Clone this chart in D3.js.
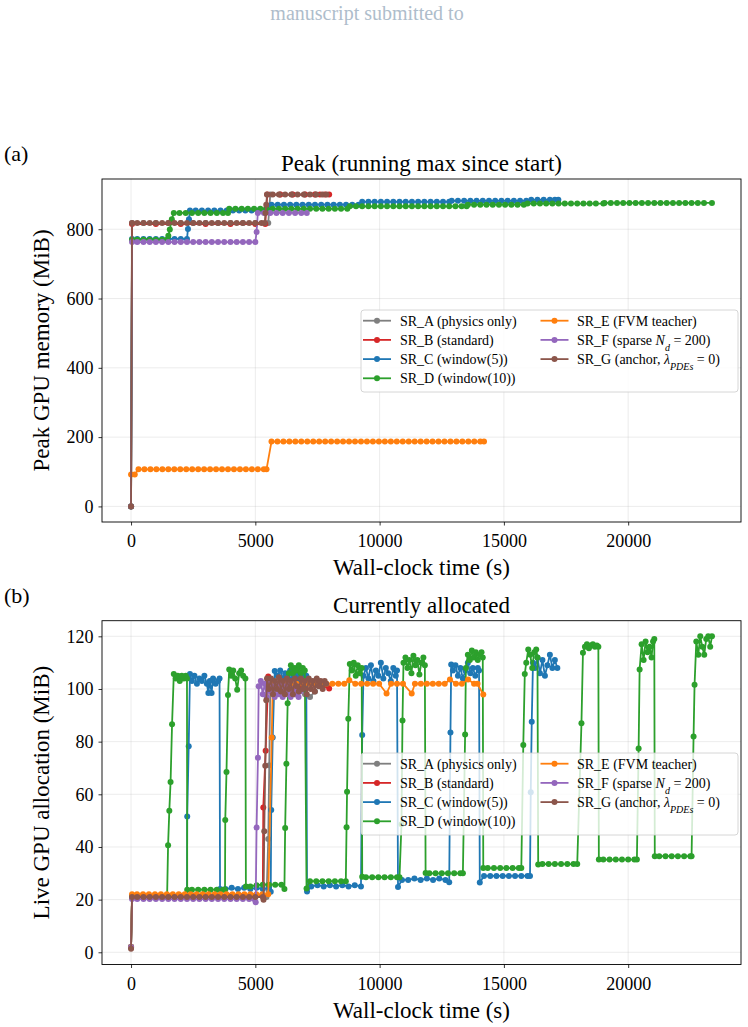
<!DOCTYPE html>
<html><head><meta charset="utf-8">
<script src="https://cdn.jsdelivr.net/npm/d3@7"></script>
<style>
body{margin:0;background:#fff}
svg{display:block}
text{font-family:"Liberation Serif","DejaVu Serif",serif;fill:#000}
</style>
</head><body>
<svg id="c" width="748" height="1027"></svg>
<script>
// ---------- series metadata ----------
const seriesNames = ["SR_A","SR_B","SR_C","SR_D","SR_E","SR_F","SR_G"];
const seriesColors = ["#7f7f7f","#d62728","#1f77b4","#2ca02c","#ff7f0e","#9467bd","#8c564b"];
const xTicks = [0,5000,10000,15000,20000];
const peakTicks = [0,200,400,600,800];
const liveTicks = [0,20,40,60,80,100,120];

// ---------- panel (a): peak (running max), [time s, MiB] ----------
const peakA = [[0,0],[40,818],[500,818],[1000,818],[1500,818],[2000,818],[2500,818],[3000,818],[3500,818],[4000,818],[4500,818],[5000,818],[5520,818],[5560,860],[5600,900],[6000,900],[6500,900],[7000,900],[7400,900]];
const peakB = [[0,0],[40,815],[1000,815],[2000,815],[3000,815],[4000,815],[5000,815],[5400,815],[5440,860],[5480,900],[6000,900],[6500,900],[7000,900],[7400,900],[7600,900],[7800,900],[7970,900]];
const peakC = [[0,0],[40,772],[250,772],[500,772],[750,772],[1000,772],[1250,772],[1500,772],[1750,772],[2000,772],[2250,772],[2290,801],[2330,829],[2370,854],[2600,854],[2850,854],[3100,854],[3350,854],[3600,854],[3850,854],[4100,854],[4350,854],[4600,854],[4850,854],[5100,854],[5350,854],[5600,854],[5650,871],[5900,871],[6150,871],[6400,871],[6650,871],[6900,871],[7150,871],[7400,871],[7650,871],[7900,871],[8150,871],[8400,871],[8650,871],[8900,871],[9150,871],[9300,879],[9550,879],[9800,879],[10050,879],[10300,879],[10550,879],[10800,879],[11050,879],[11300,879],[11550,879],[11800,879],[12050,879],[12300,879],[12550,879],[12800,879],[12900,882],[13150,882],[13400,882],[13650,882],[13900,882],[14150,882],[14400,882],[14650,882],[14900,882],[15150,882],[15400,882],[15650,882],[15900,882],[16100,885],[16350,885],[16600,885],[16850,885],[17050,885],[17190,885]];
const peakD = [[0,0],[40,770],[250,770],[500,770],[750,770],[1000,770],[1250,770],[1450,770],[1500,781],[1560,799],[1640,829],[1720,847],[1950,847],[2200,847],[2450,847],[2700,847],[2950,847],[3200,847],[3450,847],[3700,847],[3900,847],[3950,859],[4200,859],[4450,859],[4700,859],[4950,859],[5200,859],[5450,859],[5700,859],[5950,859],[6200,859],[6450,859],[6700,859],[6950,859],[7200,859],[7450,859],[7700,859],[7950,859],[8200,859],[8450,859],[8700,859],[8800,866],[9050,866],[9300,866],[9550,866],[9800,866],[10050,866],[10300,866],[10550,866],[10800,866],[11050,866],[11300,866],[11550,866],[11800,866],[12050,866],[12300,866],[12550,866],[12800,866],[13050,866],[13300,866],[13500,866],[13550,871],[13800,871],[14050,871],[14300,871],[14550,871],[14800,871],[15050,871],[15300,871],[15550,871],[15800,871],[15950,874],[16200,874],[16450,874],[16700,874],[16950,874],[17200,874],[17450,874],[17700,874],[17950,874],[18200,874],[18450,874],[18700,874],[19000,874],[19050,876],[19300,876],[19550,876],[19800,876],[20050,876],[20300,876],[20550,876],[20800,876],[21050,876],[21300,876],[21550,876],[21800,876],[22050,876],[22300,876],[22550,876],[22800,876],[23050,876],[23370,876]];
const peakE = [[0,92],[150,92],[300,107],[540,107],[780,107],[1020,107],[1260,107],[1500,107],[1740,107],[1980,107],[2220,107],[2460,107],[2700,107],[2940,107],[3180,107],[3420,107],[3660,107],[3900,107],[4140,107],[4380,107],[4620,107],[4860,107],[5100,107],[5340,107],[5450,107],[5650,187],[5890,187],[6130,187],[6370,187],[6610,187],[6850,187],[7090,187],[7330,187],[7570,187],[7810,187],[8050,187],[8290,187],[8530,187],[8770,187],[9010,187],[9250,187],[9490,187],[9730,187],[9970,187],[10210,187],[10450,187],[10690,187],[10930,187],[11170,187],[11410,187],[11650,187],[11890,187],[12130,187],[12370,187],[12610,187],[12850,187],[13090,187],[13330,187],[13570,187],[13810,187],[14050,187],[14200,187]];
const peakF = [[0,0],[40,763],[250,763],[500,763],[750,763],[1000,763],[1250,763],[1500,763],[1750,763],[2000,763],[2250,763],[2500,763],[2750,763],[3000,763],[3250,763],[3500,763],[3750,763],[4000,763],[4250,763],[4500,763],[4750,763],[5000,763],[5050,792],[5100,847],[5350,847],[5600,847],[5850,847],[6100,847],[6350,847],[6600,847],[6850,847],[7070,847]];
const peakG = [[0,0],[40,818],[250,818],[500,818],[750,818],[1000,818],[1250,818],[1500,818],[1750,818],[2000,818],[2250,818],[2500,818],[2750,818],[3000,818],[3250,818],[3500,818],[3750,818],[4000,818],[4250,818],[4500,818],[4750,818],[5000,818],[5250,818],[5380,818],[5410,847],[5440,871],[5470,900],[5700,900],[5950,900],[6200,900],[6450,900],[6700,900],[6950,900],[7200,900],[7450,900],[7700,900],[7860,900]];

// ---------- panel (b): currently allocated, [time s, MiB] ----------
const liveA = [[0,2],[40,21],[500,21],[1000,21],[1500,21],[2000,21],[2500,21],[3000,21],[3500,21],[4000,21],[4500,21],[5000,21],[5450,21],[5520,43],[5560,71],[5600,100],[5800,101],[6000,99],[6200,102],[6400,100],[6600,98],[6800,101],[7000,98],[7200,97],[7400,99]];
const liveB = [[0,2],[40,21.5],[500,21.5],[1000,21.5],[1500,21.5],[2000,21.5],[2500,21.5],[3000,21.5],[3500,21.5],[4000,21.5],[4500,21.5],[5000,21.5],[5300,21.5],[5320,55],[5415,76.5],[5520,104.7],[5700,103],[5900,101],[6100,104],[6300,102],[6500,100],[6700,103],[6900,101],[7100,104],[7300,102],[7500,103],[7700,101],[7870,101.4],[7970,100.2]];
const liveC = [[0,2],[40,21],[250,21],[500,21],[750,21],[1000,21],[1250,21],[1500,21],[1750,21],[2000,21],[2250,21],[2260,51.6],[2320,78.3],[2370,105.7],[2450,103],[2550,105],[2650,102],[2750,104],[2850,103],[2950,105],[3050,102],[3110,98.5],[3170,103],[3240,98.5],[3300,104],[3400,102],[3500,103],[3560,104],[3580,24],[3800,24],[4050,24.5],[4300,24],[4550,24.5],[4800,24],[5050,24.5],[5300,24],[5550,24.5],[5620,23],[5640,54],[5700,81.6],[5780,106.8],[5900,105],[6000,107],[6100,104],[6200,106],[6300,105],[6400,107],[6500,104],[6600,106],[6700,105],[6800,103],[6900,106],[7000,104],[7050,105],[7080,23.1],[7250,25],[7500,25.5],[7750,25],[8000,25.5],[8250,25],[8500,25.5],[8750,25],[9000,25.5],[9250,25],[9300,82.5],[9350,105],[9450,108],[9550,104],[9650,109],[9750,103],[9850,107],[9950,105],[10050,110],[10150,104],[10250,108],[10350,106],[10450,103],[10550,108],[10650,105],[10700,107],[10740,24.8],[10900,27.5],[11150,27.5],[11400,28],[11650,27.5],[11900,28],[12150,27.5],[12400,28],[12650,27.5],[12800,26.6],[12850,83.5],[12880,109.3],[12950,107],[13050,109],[13150,105],[13250,108],[13350,104],[13450,107],[13550,110],[13650,106],[13750,108],[13850,105],[13950,108],[14000,107],[14030,26.5],[14200,29],[14450,29],[14700,29],[14950,29],[15200,29],[15450,29],[15700,29],[15950,29],[16050,29],[16080,60.8],[16120,87.6],[16170,110],[16250,108],[16350,112],[16450,106],[16550,111],[16650,105],[16750,109],[16850,113],[16950,108],[17050,111],[17150,108]];
const liveD = [[0,2],[40,21],[250,21],[500,21],[750,21],[1000,21],[1250,21],[1450,21],[1490,40.7],[1540,53.8],[1590,64.7],[1650,86.6],[1720,105.7],[1800,104],[1880,105],[1960,103],[2040,105],[2120,104],[2200,105],[2250,104],[2260,23.8],[2450,23.8],[2700,23.8],[2950,23.8],[3200,23.8],[3450,23.8],[3700,23.8],[3780,23.8],[3790,50.2],[3840,68.5],[3900,97.7],[3950,107.4],[4030,105],[4110,107],[4190,104],[4270,99.7],[4350,106],[4430,107],[4510,105],[4600,104],[4620,25],[4800,25],[5050,25.5],[5300,25.7],[5550,25.7],[5800,25.7],[6050,25.7],[6170,24],[6200,47.2],[6250,71.6],[6300,94.6],[6350,106],[6430,109],[6510,106],[6590,108],[6670,107],[6750,109],[6830,106],[6910,108],[6990,107],[7060,24.2],[7200,27],[7450,27],[7700,27],[7950,27],[8200,27],[8450,27],[8640,27],[8670,47.5],[8690,61],[8740,88.7],[8800,109.5],[8880,107],[8960,110],[9040,105],[9120,109],[9200,106],[9280,108],[9300,28.7],[9450,28.5],[9700,28.5],[9950,28.5],[10200,28.5],[10450,28.5],[10700,28.5],[10800,28.5],[10880,48.6],[10920,88],[10960,110],[11040,112],[11120,108],[11200,111],[11280,106],[11360,112.6],[11440,109],[11520,111],[11600,105.5],[11680,110],[11760,112],[11820,109],[11850,30.1],[12000,30],[12250,30],[12500,30],[12750,30],[13000,30],[13250,30],[13350,30],[13440,82.7],[13470,108],[13550,113],[13630,111],[13710,114.6],[13790,112],[13870,114],[13950,111],[14030,113],[14100,114],[14150,112],[14170,32],[14350,32],[14600,32],[14850,32],[15100,32],[15350,32],[15600,32],[15700,32],[15780,78.7],[15840,105.7],[15900,110],[15980,115],[16060,113],[16140,108],[16220,114],[16300,115],[16350,112],[16380,33.3],[16550,33.5],[16800,33.5],[17050,33.5],[17300,33.5],[17550,33.5],[17800,33.5],[17950,33.5],[18120,87],[18180,113.8],[18260,116],[18340,117],[18420,115.5],[18500,116.5],[18580,117],[18660,116],[18740,116.5],[18800,116],[18820,35.2],[19000,35.2],[19250,35.2],[19500,35.2],[19750,35.2],[20000,35.2],[20250,35.2],[20350,35.2],[20420,77.4],[20460,107.4],[20540,117],[20620,111],[20700,118],[20780,114],[20860,116],[20940,112],[21000,118],[21050,119],[21070,36.5],[21250,36.5],[21500,36.5],[21750,36.5],[22000,36.5],[22250,36.5],[22500,36.5],[22550,36.5],[22630,82],[22670,101.6],[22740,118],[22820,113],[22900,120],[22980,116],[23060,113],[23140,119],[23220,120],[23300,116],[23370,120]];
const liveE = [[0,2],[40,22],[240,22],[480,22],[720,22],[960,22],[1200,22],[1440,22],[1680,22],[1920,22],[2160,22],[2400,22],[2640,22],[2880,22],[3120,22],[3360,22],[3600,22],[3840,22],[4080,22],[4320,22],[4560,22],[4800,22],[5040,22],[5280,22],[5520,22],[5660,81.6],[5700,102],[5940,102],[6180,102],[6420,102],[6660,102],[6900,102],[7140,102],[7380,102],[7620,102],[7860,102],[8100,102],[8340,102],[8580,102],[8780,103.3],[9020,102],[9260,102],[9500,102],[9740,102],[9980,102],[10280,98.3],[10460,102],[10700,102],[10940,102],[11290,98.3],[11420,102],[11660,102],[11900,102],[12140,102],[12380,102],[12620,102],[12830,103.6],[13070,102],[13310,102],[13560,103.6],[13800,102],[13940,102],[14170,97.9]];
const liveF = [[0,2],[40,20.2],[250,20.2],[500,20.2],[750,20.2],[1000,20.2],[1250,20.2],[1500,20.2],[1750,20.2],[2000,20.2],[2250,20.2],[2500,20.2],[2750,20.2],[3000,20.2],[3250,20.2],[3500,20.2],[3750,20.2],[4000,20.2],[4250,20.2],[4500,20.2],[4750,20.2],[4950,20.2],[5015,19],[5050,47.4],[5105,73.9],[5135,101],[5220,103],[5300,98],[5380,102],[5460,97],[5540,103],[5620,99],[5700,101],[5780,97],[5860,102],[5940,98],[6020,103],[6100,97],[6180,101],[6260,98],[6340,102],[6420,97],[6500,100],[6580,98],[6660,101],[6740,97],[6800,99]];
const liveG = [[0,1.3],[40,21],[250,21],[500,21],[750,21],[1000,21],[1250,21],[1500,21],[1750,21],[2000,21],[2250,21],[2500,21],[2750,21],[3000,21],[3250,21],[3500,21],[3750,21],[4000,21],[4250,21],[4500,21],[4750,21],[5000,21],[5300,21],[5330,20],[5360,46],[5400,70.8],[5440,95.7],[5470,104],[5550,100],[5630,104],[5710,98],[5790,103],[5870,100],[5950,104.5],[6030,99],[6110,103],[6190,98],[6270,104],[6350,100],[6430,103],[6510,98],[6590,104],[6670,101],[6750,99],[6830,104],[6910,100],[6990,103],[7070,98],[7150,104],[7230,100],[7310,103],[7390,99],[7470,104],[7550,101],[7630,103],[7710,100],[7790,103],[7850,102]];

// legend labels: [text, italic?, subscript?]
const legendLabels = [
  [["SR_A (physics only)"]],
  [["SR_B (standard)"]],
  [["SR_C (window(5))"]],
  [["SR_D (window(10))"]],
  [["SR_E (FVM teacher)"]],
  [["SR_F (sparse "],["N",1],["d",1,1],[" = 200)"]],
  [["SR_G (anchor, "],["λ",1],["PDEs",1,1],[" = 0)"]]
];

// ---------- drawing ----------
const svg = d3.select("#c");
const peakData = [peakA,peakB,peakC,peakD,peakE,peakF,peakG];
const liveData = [liveA,liveB,liveC,liveD,liveE,liveF,liveG];

function padDomain(arrs){
  const all = arrs.flat();
  const lo = d3.min(all,d=>d[1]), hi = d3.max(all,d=>d[1]);
  const p = (hi-lo)*0.05;
  return [lo-p, hi+p];
}
const allT = peakData.concat(liveData).flat();
const tMin = d3.min(allT,d=>d[0]), tMax = d3.max(allT,d=>d[0]);
const xDom = [tMin-(tMax-tMin)*0.05, tMax+(tMax-tMin)*0.05];

svg.append("text").attr("x",367).attr("y",20).attr("text-anchor","middle")
  .style("font-size","20px").style("fill","#aebdcb").text("manuscript submitted to");

function drawPanel(cfg){
  const x = d3.scaleLinear().domain(xDom).range([cfg.left,cfg.right]);
  const y = d3.scaleLinear().domain(padDomain(cfg.data)).range([cfg.bottom,cfg.top]);
  const g = svg.append("g");
  const cid = "clip"+cfg.id;
  svg.append("clipPath").attr("id",cid).append("rect")
    .attr("x",cfg.left).attr("y",cfg.top).attr("width",cfg.right-cfg.left).attr("height",cfg.bottom-cfg.top);
  // grid
  g.selectAll(".gx").data(xTicks).join("line")
    .attr("x1",d=>x(d)).attr("x2",d=>x(d)).attr("y1",cfg.top).attr("y2",cfg.bottom)
    .attr("stroke","#b0b0b0").attr("stroke-opacity",0.3).attr("stroke-width",0.8);
  g.selectAll(".gy").data(cfg.ticks).join("line")
    .attr("y1",d=>y(d)).attr("y2",d=>y(d)).attr("x1",cfg.left).attr("x2",cfg.right)
    .attr("stroke","#b0b0b0").attr("stroke-opacity",0.3).attr("stroke-width",0.8);
  const plot = g.append("g").attr("clip-path",`url(#${cid})`);
  const line = d3.line().x(d=>x(d[0])).y(d=>y(d[1]));
  cfg.data.forEach((arr,i)=>{
    const s = plot.append("g");
    s.append("path").attr("d",line(arr)).attr("fill","none")
      .attr("stroke",seriesColors[i]).attr("stroke-width",1.8).attr("stroke-linejoin","round");
    s.selectAll("circle").data(arr).join("circle")
      .attr("cx",d=>x(d[0])).attr("cy",d=>y(d[1])).attr("r",3).attr("fill",seriesColors[i]);
  });
  // axes
  const ax = g.append("g").attr("transform",`translate(0,${cfg.bottom})`)
    .call(d3.axisBottom(x).tickValues(xTicks).tickSize(3.5).tickPadding(9).tickFormat(d3.format("d")));
  const ay = g.append("g").attr("transform",`translate(${cfg.left},0)`)
    .call(d3.axisLeft(y).tickValues(cfg.ticks).tickSize(3.5).tickPadding(5).tickFormat(d3.format("d")));
  [ax,ay].forEach(a=>{
    a.select(".domain").remove();
    a.selectAll("text").style("font-size","18px").style("font-family",'"Liberation Serif",serif');
    a.selectAll("line").attr("stroke","#000").attr("stroke-width",0.8);
  });
  g.append("rect").attr("x",cfg.left).attr("y",cfg.top).attr("width",cfg.right-cfg.left)
    .attr("height",cfg.bottom-cfg.top).attr("fill","none").attr("stroke","#000").attr("stroke-width",0.9);
  // labels
  g.append("text").attr("x",(cfg.left+cfg.right)/2).attr("y",cfg.top-8).attr("text-anchor","middle")
    .style("font-size","23px").text(cfg.title);
  g.append("text").attr("x",4).attr("y",cfg.top-18).style("font-size","22px").text(cfg.tag);
  g.append("text").attr("x",(cfg.left+cfg.right)/2).attr("y",cfg.bottom+53).attr("text-anchor","middle")
    .style("font-size","23px").text("Wall-clock time (s)");
  g.append("text").attr("transform",`translate(49,${(cfg.top+cfg.bottom)/2}) rotate(-90)`)
    .attr("text-anchor","middle").style("font-size","23px").text(cfg.ylabel);
  // legend
  const lg = g.append("g");
  lg.append("rect").attr("x",361).attr("y",cfg.legTop).attr("width",377).attr("height",82).attr("rx",3)
    .attr("fill","#fff").attr("fill-opacity",0.8).attr("stroke","#cccccc").attr("stroke-width",0.8);
  legendLabels.forEach((lab,i)=>{
    const col = i<4?0:1, row = i<4?i:i-4;
    const lx = col===0?363:540.5, tx = col===0?400:577;
    const cy = cfg.legTop+10.7+row*19.2;
    lg.append("line").attr("x1",lx).attr("x2",lx+28).attr("y1",cy).attr("y2",cy)
      .attr("stroke",seriesColors[i]).attr("stroke-width",1.8);
    lg.append("circle").attr("cx",lx+14).attr("cy",cy).attr("r",3).attr("fill",seriesColors[i]);
    const t = lg.append("text").attr("x",tx).attr("y",cy+4.8).style("font-size","14px");
    lab.forEach(seg=>{
      const ts = t.append("tspan").text(seg[0]);
      if(seg[1]) ts.style("font-style","italic");
      if(seg[2]) ts.attr("baseline-shift","sub").style("font-size","10px");
    });
  });
}

drawPanel({id:"a",left:102,right:741,top:179,bottom:522,data:peakData,ticks:peakTicks,
  title:"Peak (running max since start)",tag:"(a)",ylabel:"Peak GPU memory (MiB)",legTop:310});
drawPanel({id:"b",left:102,right:741,top:620.7,bottom:964.5,data:liveData,ticks:liveTicks,
  title:"Currently allocated",tag:"(b)",ylabel:"Live GPU allocation (MiB)",legTop:753});
</script>
</body></html>
